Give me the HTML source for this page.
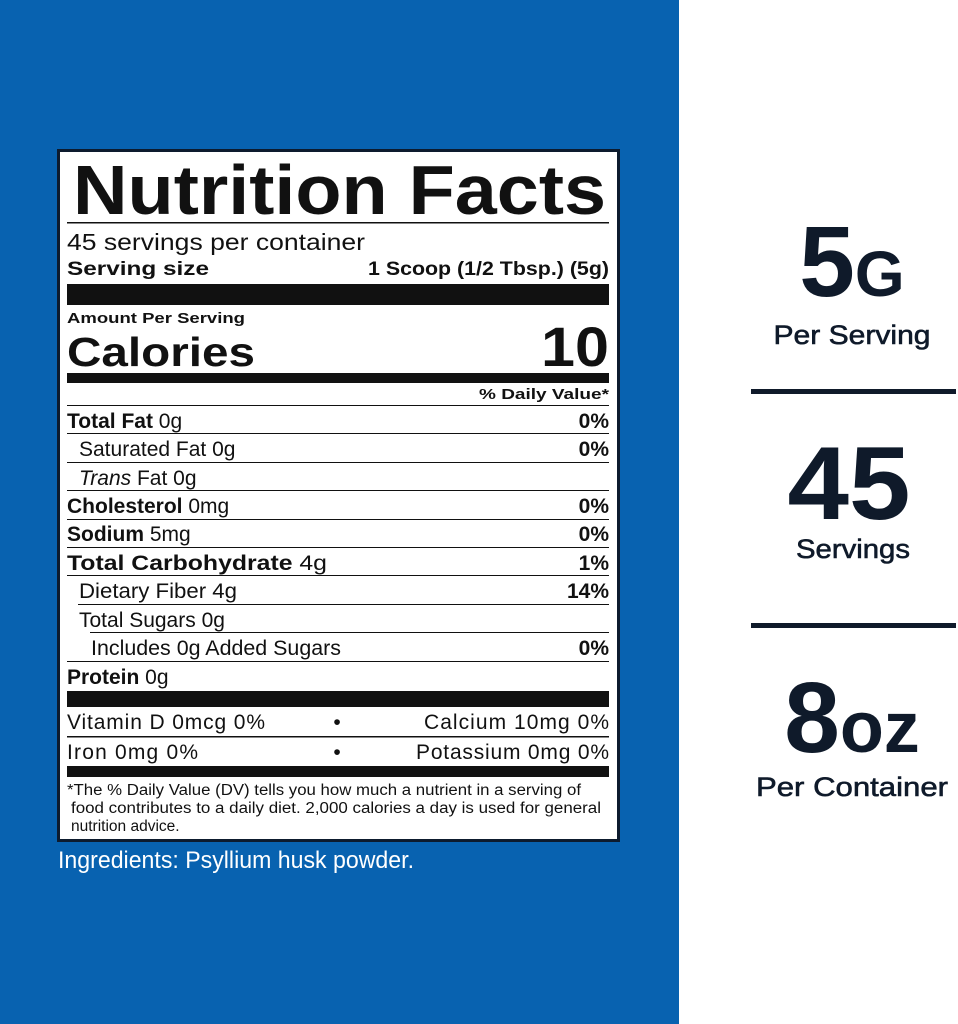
<!DOCTYPE html>
<html><head><meta charset="utf-8"><style>
html,body{margin:0;padding:0;background:#fff}
svg{display:block}
</style></head><body>
<svg width="958" height="1024" viewBox="0 0 958 1024" xmlns="http://www.w3.org/2000/svg" font-family="Liberation Sans, sans-serif">
<rect x="0" y="0" width="679" height="1024" fill="#0862b0"/>
<rect x="679" y="0" width="279" height="1024" fill="#fff"/>
<rect x="58.5" y="150.5" width="560" height="690" fill="#fff" stroke="#0d1b2e" stroke-width="3"/>
<g fill="#111">
<text x="73" y="214" font-size="70" font-weight="bold" textLength="533" lengthAdjust="spacingAndGlyphs">Nutrition Facts</text>
<rect x="67" y="222" width="542" height="1.5"/>
<text x="67" y="250" font-size="23" textLength="298" lengthAdjust="spacingAndGlyphs">45 servings per container</text>
<text x="67" y="275" font-size="19" font-weight="bold" textLength="142" lengthAdjust="spacingAndGlyphs">Serving size</text>
<text x="609" y="275" font-size="19" font-weight="bold" text-anchor="end" textLength="241" lengthAdjust="spacingAndGlyphs">1 Scoop (1/2 Tbsp.) (5g)</text>
<rect x="67" y="284" width="542" height="21"/>
<text x="67" y="323" font-size="15" font-weight="bold" textLength="178" lengthAdjust="spacingAndGlyphs">Amount Per Serving</text>
<text x="67" y="366" font-size="41" font-weight="bold" textLength="188" lengthAdjust="spacingAndGlyphs">Calories</text>
<text x="609" y="366" font-size="56" font-weight="bold" text-anchor="end" textLength="68" lengthAdjust="spacingAndGlyphs">10</text>
<rect x="67" y="373" width="542" height="10"/>
<text x="609" y="399" font-size="15" font-weight="bold" text-anchor="end" textLength="130" lengthAdjust="spacingAndGlyphs">% Daily Value*</text>
<rect x="67" y="405" width="542" height="1"/>

<g font-size="21">
<text x="67" y="428"><tspan font-weight="bold">Total Fat</tspan> 0g</text>
<text x="609" y="428" text-anchor="end" font-weight="bold">0%</text>
<rect x="67" y="433" width="542" height="1"/>
<text x="79" y="456">Saturated Fat 0g</text>
<text x="609" y="456" text-anchor="end" font-weight="bold">0%</text>
<rect x="67" y="462" width="542" height="1"/>
<text x="79" y="485"><tspan font-style="italic">Trans</tspan> Fat 0g</text>
<rect x="67" y="490" width="542" height="1"/>
<text x="67" y="513"><tspan font-weight="bold">Cholesterol</tspan> 0mg</text>
<text x="609" y="513" text-anchor="end" font-weight="bold">0%</text>
<rect x="67" y="519" width="542" height="1"/>
<text x="67" y="541"><tspan font-weight="bold">Sodium</tspan> 5mg</text>
<text x="609" y="541" text-anchor="end" font-weight="bold">0%</text>
<rect x="67" y="547" width="542" height="1"/>
<text x="67" y="570" textLength="260" lengthAdjust="spacingAndGlyphs"><tspan font-weight="bold">Total Carbohydrate</tspan> 4g</text>
<text x="609" y="570" text-anchor="end" font-weight="bold">1%</text>
<rect x="67" y="575" width="542" height="1"/>
<text x="79" y="598" textLength="158" lengthAdjust="spacingAndGlyphs">Dietary Fiber 4g</text>
<text x="609" y="598" text-anchor="end" font-weight="bold">14%</text>
<rect x="78" y="604" width="531" height="1"/>
<text x="79" y="627">Total Sugars 0g</text>
<rect x="90" y="632" width="519" height="1"/>
<text x="91" y="655" textLength="250" lengthAdjust="spacingAndGlyphs">Includes 0g Added Sugars</text>
<text x="609" y="655" text-anchor="end" font-weight="bold">0%</text>
<rect x="67" y="661" width="542" height="1"/>
<text x="67" y="684"><tspan font-weight="bold">Protein</tspan> 0g</text>
</g>
<rect x="67" y="691" width="542" height="16"/>
<g font-size="21">
<text x="67" y="729" textLength="198" lengthAdjust="spacing">Vitamin D  0mcg  0%</text>
<text x="337" y="729" text-anchor="middle">•</text>
<text x="609" y="729" text-anchor="end" textLength="185" lengthAdjust="spacing">Calcium  10mg  0%</text>
<rect x="67" y="736" width="542" height="1.5"/>
<text x="67" y="759" textLength="131" lengthAdjust="spacing">Iron  0mg  0%</text>
<text x="337" y="759" text-anchor="middle">•</text>
<text x="609" y="759" text-anchor="end" textLength="193" lengthAdjust="spacing">Potassium  0mg  0%</text>
</g>
<rect x="67" y="766" width="542" height="11"/>
<g font-size="15.5">
<text x="67" y="795" textLength="514" lengthAdjust="spacingAndGlyphs">*The % Daily Value (DV) tells you how much a nutrient in a serving of</text>
<text x="71" y="813" textLength="530" lengthAdjust="spacingAndGlyphs">food contributes to a daily diet.  2,000 calories a day is used for general</text>
<text x="71" y="831">nutrition advice.</text>
</g>
</g>
<text x="58" y="868" font-size="24" fill="#fff" textLength="356" lengthAdjust="spacingAndGlyphs">Ingredients: Psyllium husk powder.</text>

<g fill="#0f1a2a" font-weight="bold" text-anchor="middle">
<text x="852" y="296" font-size="100"><tspan>5</tspan><tspan font-size="64">G</tspan></text>
<text x="852" y="344" font-size="27" font-weight="normal" stroke="#0f1a2a" stroke-width="0.6" textLength="157" lengthAdjust="spacingAndGlyphs">Per Serving</text>
<rect x="751" y="389" width="205" height="5"/>
<text x="849" y="519" font-size="104" textLength="123" lengthAdjust="spacingAndGlyphs">45</text>
<text x="853" y="558" font-size="27" font-weight="normal" stroke="#0f1a2a" stroke-width="0.6" textLength="114" lengthAdjust="spacingAndGlyphs">Servings</text>
<rect x="751" y="623" width="205" height="5"/>
<text x="852" y="752" font-size="100"><tspan>8</tspan><tspan font-size="72">oz</tspan></text>
<text x="852" y="796" font-size="27" font-weight="normal" stroke="#0f1a2a" stroke-width="0.6" textLength="192" lengthAdjust="spacingAndGlyphs">Per Container</text>
</g>
</svg>
</body></html>
